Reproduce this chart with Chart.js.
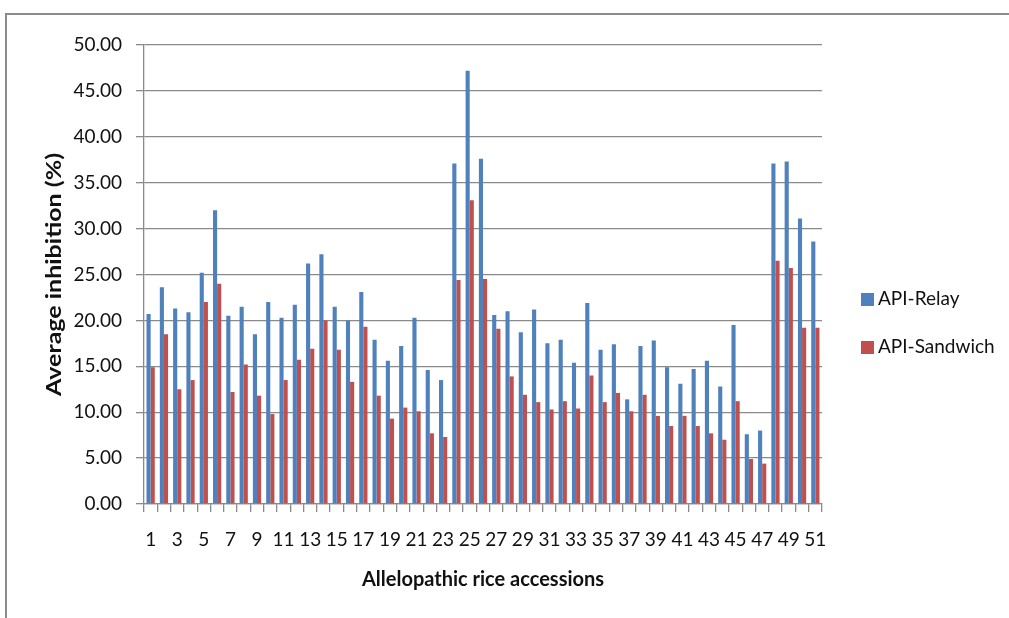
<!DOCTYPE html>
<html lang="en">
<head>
  <meta charset="UTF-8">
  <title>Average inhibition of allelopathic rice accessions</title>
  <script src="https://cdn.jsdelivr.net/npm/chart.js"></script>
  <style>
    body { margin: 0; background: #fff; }
    .wrap { position: relative; width: 1009px; height: 618px; overflow: hidden; }
    .frame { position: absolute; left: 5px; top: 13px; width: 1020px; height: 640px;
             border-top: 2px solid #8c8c8c; border-left: 2px solid #8c8c8c; }
    canvas { position: absolute; left: 0; top: 0; }
  </style>
</head>
<body>
  <div class="wrap">
    <div class="frame"></div>
    <canvas id="chart" width="1009" height="618"></canvas>
  </div>

  <script>
    // accession numbers 1..51
    const accessions = ['1','2','3','4','5','6','7','8','9','10','11','12','13','14','15','16','17',
      '18','19','20','21','22','23','24','25','26','27','28','29','30','31','32','33','34',
      '35','36','37','38','39','40','41','42','43','44','45','46','47','48','49','50','51'];

    // values (%)
    const relay = [20.7, 23.6, 21.3, 20.9, 25.2, 32.0, 20.5, 21.5, 18.5, 22.0, 20.3, 21.7, 26.2, 27.2, 21.5, 20.0, 23.1,
      17.9, 15.6, 17.2, 20.3, 14.6, 13.5, 37.1, 47.2, 37.6, 20.6, 21.0, 18.7, 21.2, 17.5, 17.9, 15.4, 21.9,
      16.8, 17.4, 11.4, 17.2, 17.8, 14.9, 13.1, 14.7, 15.6, 12.8, 19.5, 7.6, 8.0, 37.1, 37.3, 31.1, 28.6];
    const sandwich = [14.9, 18.5, 12.5, 13.5, 22.0, 24.0, 12.2, 15.2, 11.8, 9.8, 13.5, 15.7, 16.9, 20.0, 16.8, 13.3, 19.3,
      11.8, 9.3, 10.5, 10.1, 7.7, 7.3, 24.4, 33.1, 24.5, 19.1, 13.9, 11.9, 11.1, 10.3, 11.2, 10.4, 14.0,
      11.1, 12.1, 10.1, 11.9, 9.6, 8.5, 9.6, 8.5, 7.7, 7.0, 11.2, 4.9, 4.4, 26.5, 25.7, 19.2, 19.2];

    const seriesNames = ['API-Relay', 'API-Sandwich'];
    const seriesColors = ['#4F81BD', '#C0504D'];
    const yTitle = 'Average inhibition (%)';

    const FONT = "Lato, 'DejaVu Sans Condensed', sans-serif";
    const GRID = '#8a8a8a';

    // legend on the right + the y title (a bit stretched along its length, like the original)
    const extras = {
      id: 'extras',
      afterDraw(chart) {
        const ctx = chart.ctx;
        ctx.save();
        ctx.font = '19px ' + FONT;
        ctx.textBaseline = 'middle';
        seriesNames.forEach((name, i) => {
          const y = 299 + i * 48;
          ctx.fillStyle = seriesColors[i];
          ctx.fillRect(861, y - 6, 13, 13);
          ctx.fillStyle = '#111';
          ctx.fillText(name, 878, y);
        });
        ctx.restore();

        const area = chart.chartArea;
        ctx.save();
        ctx.translate(55, (area.top + area.bottom) / 2);
        ctx.rotate(-Math.PI / 2);
        ctx.scale(1.25, 1);
        ctx.font = 'bold 20px ' + FONT;
        ctx.fillStyle = '#111';
        ctx.textAlign = 'center';
        ctx.textBaseline = 'middle';
        ctx.fillText(yTitle, 0, 0);
        ctx.restore();
      }
    };

    new Chart(document.getElementById('chart'), {
      type: 'bar',
      data: {
        labels: accessions,
        datasets: [
          { label: seriesNames[0], data: relay, backgroundColor: seriesColors[0] },
          { label: seriesNames[1], data: sandwich, backgroundColor: seriesColors[1] }
        ]
      },
      options: {
        responsive: false,
        animation: false,
        categoryPercentage: 0.62,
        barPercentage: 1.0,
        layout: { padding: { top: 45, right: 187, left: 0, bottom: 0 } },
        plugins: {
          legend: { display: false },
          tooltip: { enabled: false }
        },
        scales: {
          x: {
            afterFit: s => { s.height = 114; },
            grid: { drawOnChartArea: false, drawTicks: true, tickLength: 8, color: GRID, lineWidth: 1.3 },
            border: { display: true, color: GRID, width: 1.3 },
            ticks: {
              autoSkip: false, maxRotation: 0, minRotation: 0,
              padding: 16, color: '#111',
              font: { family: FONT, size: 19 },
              callback: (v, i) => (i % 2 === 0 ? accessions[i] : '')
            },
            title: {
              display: true, text: 'Allelopathic rice accessions', color: '#111',
              font: { family: FONT, size: 20, weight: 'bold' },
              padding: { top: 0, bottom: 26 }
            }
          },
          y: {
            min: 0, max: 50,
            afterFit: s => { s.width = 144; },
            grid: { color: GRID, lineWidth: 1.3, tickLength: 8 },
            border: { display: true, color: GRID, width: 1.3 },
            ticks: {
              stepSize: 5, padding: 14, color: '#111',
              font: { family: FONT, size: 19 },
              callback: v => v.toFixed(2)
            }
          }
        }
      },
      plugins: [extras]
    });
  </script>
</body>
</html>
